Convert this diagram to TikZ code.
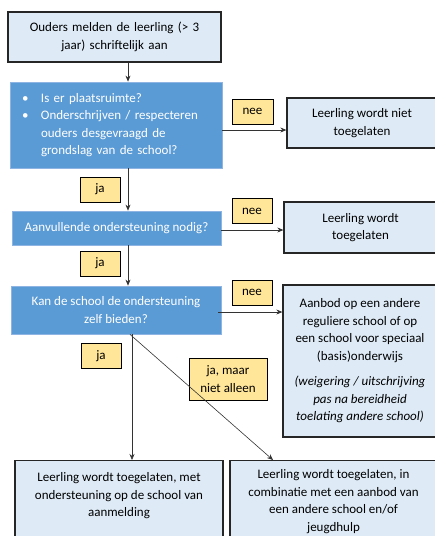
\documentclass[tikz,border=0pt]{standalone}
\usepackage{fontspec}
\setmainfont{Carlito}
\usetikzlibrary{arrows.meta}
\definecolor{lightbox}{HTML}{DEEBF7}
\definecolor{darkbox}{HTML}{5B9BD5}
\definecolor{darkline}{HTML}{8DB4E2}
\definecolor{tagfill}{HTML}{FFE699}

\def\lwidth{1.3}
\def\tagh{25}
\def\bul{\makebox[21pt][l]{\hspace{2pt}\textbullet}}
\def\ind{\hspace*{21pt}}

\begin{document}
\begin{tikzpicture}[x=1pt,y=-1pt,font=\fontsize{13}{17.5}\selectfont,
	myrec/.style={inner sep=0pt,rectangle,align=center},
	lightrec/.style={myrec,draw=black!85,fill=lightbox,line width=\lwidth pt},
	darkrec/.style={myrec,draw=darkline,fill=darkbox,text=white,line width=0.8pt},
	tagrec/.style={myrec,draw=black,fill=tagfill,line width=1pt,minimum height=\tagh pt},
	arr/.style={-{Stealth[length=6pt,width=5pt]},line width=0.6pt,draw=black!80}]
	\clip (0,0) rectangle (435,536);
	% left column: questions
	\node[lightrec,minimum width=213pt,minimum height=50pt,text width=205pt] (start) at (114.5,37) {Ouders melden de leerling (> 3\\ jaar) schriftelijk aan};
	\node[darkrec,minimum width=212pt,minimum height=86pt,text width=192pt,align=left] (q1) at (116,125) {\bul Is er plaatsruimte?\\ \bul Onderschrijven / respecteren\\ \ind ouders desgevraagd de\\ \ind grondslag van de school?};
	\node[darkrec,minimum width=209pt,minimum height=34pt] (q2) at (116.5,228) {Aanvullende ondersteuning nodig?};
	\node[darkrec,minimum width=210pt,minimum height=48pt] (q3) at (116,310) {Kan de school de ondersteuning\\ zelf bieden?};
	% right column: outcomes
	\node[lightrec,minimum width=150pt,minimum height=50pt] (r1) at (362,123) {Leerling wordt niet\\ toegelaten};
	\node[lightrec,minimum width=153pt,minimum height=51pt] (r2) at (360.5,227.5) {Leerling wordt\\ toegelaten};
	\node[lightrec,minimum width=154pt,minimum height=152pt] (r3) at (360,361) {Aanbod op een andere\\ reguliere school of op\\ een school voor speciaal\\ (basis)onderwijs\\[8pt] \textit{(weigering / uitschrijving}\\ \textit{pas na bereidheid}\\ \textit{toelating andere school)}};
	% bottom row
	\node[lightrec,anchor=north,minimum width=208pt,inner ysep=12pt,text depth=80pt] (b1) at (119,460) {Leerling wordt toegelaten, met\\ ondersteuning op de school van\\ aanmelding};
	\node[lightrec,anchor=north,minimum width=207pt,inner ysep=9pt,text depth=80pt] (b2) at (333.5,460) {Leerling wordt toegelaten, in\\ combinatie met een aanbod van\\ een andere school en/of\\ jeugdhulp};
	% answers
	\node[tagrec,minimum width=41pt] (nee1) at (252.5,111.5) {nee};
	\node[tagrec,minimum width=40pt] (ja1) at (100,189.5) {ja};
	\node[tagrec,minimum width=40pt] (nee2) at (252,211) {nee};
	\node[tagrec,minimum width=40pt] (ja2) at (100,263.5) {ja};
	\node[tagrec,minimum width=40pt] (nee3) at (252,292.5) {nee};
	\node[tagrec,minimum width=40pt] (ja3) at (101,356) {ja};
	\node[tagrec,minimum width=78pt,minimum height=42pt] (jamaar) at (228,379) {ja, maar\\ niet alleen};
	% connectors
	\coordinate (spine) at (128,0);
	\coordinate (drop) at (132,0);
	\draw[arr] (start.south -| spine) -- (q1.north -| spine);
	\draw[arr] (q1.south -| spine) -- (q2.north -| spine);
	\draw[arr] (q2.south -| spine) -- (q3.north -| spine);
	\draw[arr] ([yshift=-5pt]q1.east) coordinate (a1) -- (a1 -| r1.west);
	\draw[arr] ([yshift=-2pt]q2.east) coordinate (a2) -- (a2 -| r2.west);
	\draw[arr] ([yshift=-2pt,xshift=-3pt]q3.east) coordinate (a3) -- (a3 -| r3.west);
	\draw[arr] (q3.south -| drop) -- (b1.north -| drop);
	\draw[arr] ([xshift=14pt]q3.south) -- ([xshift=-60.5pt]b2.north);
\end{tikzpicture}
\end{document}
